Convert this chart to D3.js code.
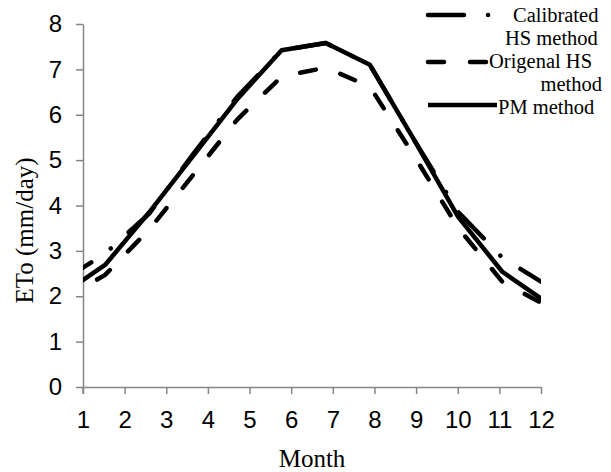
<!DOCTYPE html>
<html>
<head>
<meta charset="utf-8">
<script src="https://cdn.jsdelivr.net/npm/d3@7"></script>
<style>
body { margin: 0; background: #fff; }
.axis path, .axis line { stroke: #868686; stroke-width: 1.5; }
.axis text { font-family: "Liberation Sans", Arial, sans-serif; font-size: 24px; fill: #000; }
.axis-title { font-family: "Liberation Serif", "Times New Roman", serif; font-size: 25px; fill: #000; }
.legend text { font-family: "Liberation Serif", "Times New Roman", serif; font-size: 20.5px; fill: #000; }
.et-line { fill: none; stroke: #000; stroke-width: 4.5; stroke-linecap: round; stroke-linejoin: round; }
</style>
</head>
<body>
<div id="chart"></div>
<script>
// tick labels
var months = [1, 2, 3, 4, 5, 6, 7, 8, 9, 10, 11, 12];
var yTicks = [0, 1, 2, 3, 4, 5, 6, 7, 8];
// x position of each point (months)
var pointMonth = [0.47, 1.53, 2.59, 3.65, 4.71, 5.77, 6.83, 7.89, 8.95, 10.01, 11.07, 12.13];
// ETo (mm/day)
var calibratedHS = [2.32, 2.94, 3.82, 5.14, 6.4, 7.42, 7.58, 7.1, 5.45, 3.86, 2.85, 2.25];
var originalHS = [1.9, 2.47, 3.47, 4.68, 5.9, 6.84, 7.04, 6.62, 5.1, 3.51, 2.32, 1.79];
var pmMethod = [2.03, 2.69, 3.85, 5.1, 6.35, 7.42, 7.58, 7.1, 5.45, 3.75, 2.54, 1.87];

var margin = {top: 24, right: 70, bottom: 85, left: 83};
var width = 611 - margin.left - margin.right,
    height = 472 - margin.top - margin.bottom;

var svg = d3.select("#chart").append("svg")
    .attr("width", 611)
    .attr("height", 472);
var g = svg.append("g")
    .attr("transform", "translate(" + margin.left + "," + margin.top + ")");

g.append("defs").append("clipPath")
    .attr("id", "clip")
    .append("rect")
    .attr("x", 0)
    .attr("y", -10)
    .attr("width", width)
    .attr("height", height + 10);

var x = d3.scaleLinear().domain([1, 12]).range([0, width]);
var y = d3.scaleLinear().domain([0, 8]).range([height, 0]);

var xAxis = d3.axisBottom(x).tickValues(months).tickSize(7).tickPadding(17).tickSizeOuter(0);
var yAxis = d3.axisLeft(y).tickValues(yTicks).tickSize(7).tickPadding(14).tickSizeOuter(0);

g.append("g")
    .attr("class", "axis")
    .attr("transform", "translate(0," + height + ")")
    .call(xAxis);
g.append("g")
    .attr("class", "axis")
    .call(yAxis);
// y axis line continues down past the x axis like the tick marks
g.append("line")
    .attr("x1", 0).attr("x2", 0)
    .attr("y1", height).attr("y2", height + 7)
    .style("stroke", "#868686").style("stroke-width", 1.5);

g.append("text")
    .attr("class", "axis-title")
    .attr("text-anchor", "middle")
    .attr("x", width / 2)
    .attr("y", height + 80)
    .text("Month");
g.append("text")
    .attr("class", "axis-title")
    .attr("text-anchor", "middle")
    .attr("transform", "translate(" + (-50) + "," + (y(3.45)) + ") rotate(-90)")
    .text("ETo (mm/day)");

var series = [
    {name: "calibrated", values: calibratedHS, dash: "36,24,0.1,24"},
    {name: "original", values: originalHS, dash: "16,26"},
    {name: "pm", values: pmMethod, dash: null}
];

var line = d3.line()
    .x(function(d) { return x(d.month); })
    .y(function(d) { return y(d.value); });

g.append("g")
    .attr("clip-path", "url(#clip)")
    .selectAll("path")
    .data(series)
    .enter().append("path")
    .attr("class", "et-line")
    .attr("d", function(s) {
        return line(s.values.map(function(v, i) {
            return {month: pointMonth[i], value: v};
        }));
    })
    .style("stroke-dasharray", function(s) { return s.dash; });

// legend
var legendItems = [
    {dash: "36,24,0.1,24", x1: 428, x2: 495, y: 15, lines: [{t: "Calibrated", x: 513, y: 22, a: "start"}, {t: "HS method", x: 505, y: 45, a: "start"}]},
    {dash: "16,26", x1: 428, x2: 488, y: 62, lines: [{t: "Origenal HS", x: 489, y: 68, a: "start"}, {t: "method", x: 602, y: 91, a: "end"}]},
    {dash: null, x1: 428, x2: 497, y: 105, lines: [{t: "PM method", x: 498, y: 114, a: "start"}]}
];

var legend = svg.append("g").attr("class", "legend");
legendItems.forEach(function(d) {
    legend.append("line")
        .attr("class", "et-line")
        .attr("x1", d.x1).attr("x2", d.x2)
        .attr("y1", d.y).attr("y2", d.y)
        .style("stroke-dasharray", d.dash)
        .style("stroke-linecap", d.dash ? "round" : "butt");
    d.lines.forEach(function(l) {
        legend.append("text")
            .attr("x", l.x)
            .attr("y", l.y)
            .attr("text-anchor", l.a)
            .text(l.t);
    });
});
</script>
</body>
</html>
